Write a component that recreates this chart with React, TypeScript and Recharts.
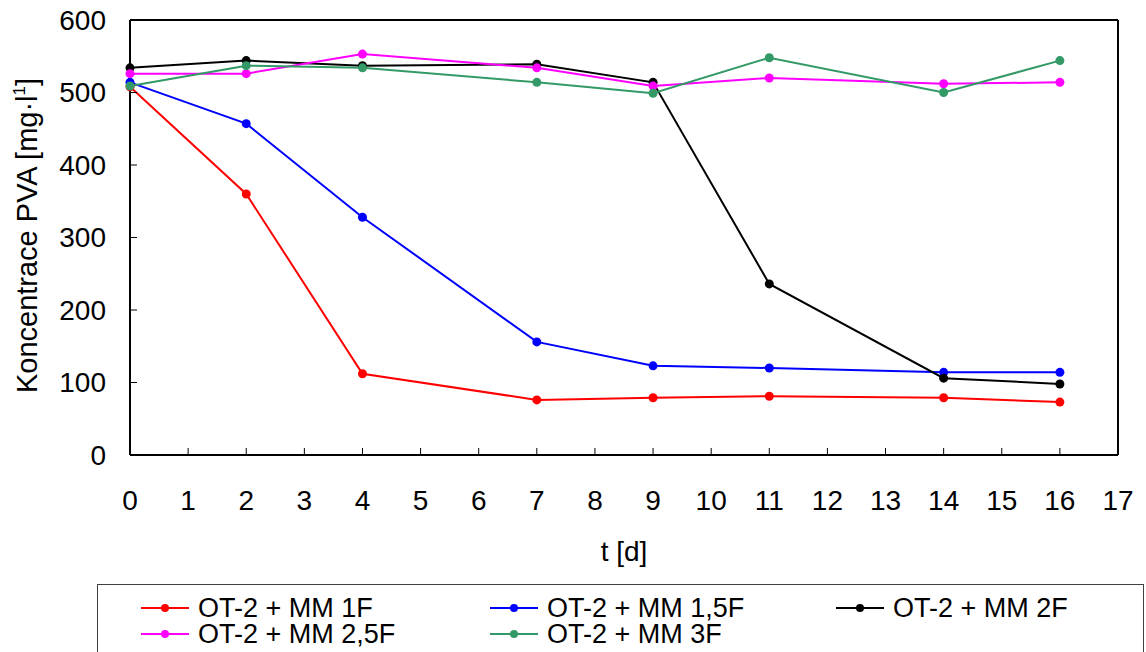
import React from 'react';
import { LineChart, Line, XAxis, YAxis, Legend } from 'recharts';

const days = [0, 2, 4, 7, 9, 11, 14, 16];
const mm1F = [508, 360, 112, 76, 79, 81, 79, 73];
const mm15F = [514, 457, 328, 156, 123, 120, 114, 114];
const mm2F = [534, 544, 537, 539, 514, 236, 106, 98];
const mm25F = [526, 526, 553, 534, 509, 520, 512, 514];
const mm3F = [509, 537, 534, 514, 499, 548, 500, 544];

const xTicks = [0, 1, 2, 3, 4, 5, 6, 7, 8, 9, 10, 11, 12, 13, 14, 15, 16, 17];
const yTicks = [0, 100, 200, 300, 400, 500, 600];

const series = [
  { key: 'mm1F', name: 'OT-2 + MM 1F', color: '#ff0000', values: mm1F },
  { key: 'mm15F', name: 'OT-2 + MM 1,5F', color: '#0000ff', values: mm15F },
  { key: 'mm2F', name: 'OT-2 + MM 2F', color: '#000000', values: mm2F },
  { key: 'mm25F', name: 'OT-2 + MM 2,5F', color: '#ff00ff', values: mm25F },
  { key: 'mm3F', name: 'OT-2 + MM 3F', color: '#339966', values: mm3F },
];

const data = days.map((d, i) => {
  const row: Record<string, number> = { day: d };
  series.forEach((s) => {
    row[s.key] = s.values[i];
  });
  return row;
});

const FONT = '"Liberation Sans", Arial, sans-serif';

// rotated y title, superscript on the unit
function YTitle({ viewBox }: { viewBox?: { x: number; y: number; width: number; height: number } }) {
  if (!viewBox) return null;
  const x = viewBox.x + 7;
  const y = viewBox.y + viewBox.height / 2 - 2;
  return (
    <text
      x={x}
      y={y}
      transform={`rotate(-90, ${x}, ${y})`}
      textAnchor="middle"
      fontSize={29}
      fontFamily={FONT}
      fill="#000"
    >
      Koncentrace PVA [mg·l
      <tspan fontSize={17} dy={-12}>1</tspan>
      <tspan dy={12}>]</tspan>
    </text>
  );
}

function XTitle({ viewBox }: { viewBox?: { x: number; y: number; width: number; height: number } }) {
  if (!viewBox) return null;
  return (
    <text
      x={viewBox.x + viewBox.width / 2}
      y={viewBox.y + 106}
      textAnchor="middle"
      fontSize={28}
      fontFamily={FONT}
      fill="#000"
    >
      t [d]
    </text>
  );
}

// legend columns / rows like the excel one
const legendCols = [43, 392, 738];
const legendRows = [23, 49];

function LegendBox() {
  return (
    <div
      style={{
        position: 'relative',
        width: 1045,
        height: 80,
        border: '1px solid #404040',
        background: '#fff',
        fontFamily: FONT,
        fontSize: 27,
        color: '#000',
      }}
    >
      {series.map((s, i) => {
        const left = legendCols[i % 3];
        const top = legendRows[Math.floor(i / 3)];
        return (
          <div
            key={s.key}
            style={{
              position: 'absolute',
              left,
              top: top - 12,
              height: 24,
              display: 'flex',
              alignItems: 'center',
              whiteSpace: 'nowrap',
            }}
          >
            <svg width={48} height={12} style={{ marginRight: 9 }}>
              <line x1={0} y1={6} x2={48} y2={6} stroke={s.color} strokeWidth={2} />
              <circle cx={24} cy={6} r={4} fill={s.color} />
            </svg>
            <span style={{ lineHeight: '24px' }}>{s.name}</span>
          </div>
        );
      })}
    </div>
  );
}

export default function App() {
  return (
    <div style={{ position: 'absolute', left: 0, top: 0, width: 1146, height: 652, background: '#fff', overflow: 'hidden' }}>
      <LineChart
        width={1146}
        height={652}
        data={data}
        margin={{ top: 19, right: 27, left: 30, bottom: 107 }}
        style={{ fontFamily: FONT }}
      >
        <XAxis
          dataKey="day"
          type="number"
          domain={[0, 17]}
          ticks={xTicks}
          interval={0}
          height={90}
          tickSize={-7}
          tickMargin={42}
          tick={{ fill: '#000', fontSize: 28 }}
          tickLine={{ stroke: '#000', strokeWidth: 1 }}
          axisLine={{ stroke: '#000', strokeWidth: 2 }}
          label={<XTitle />}
        />
        <XAxis
          xAxisId="top"
          orientation="top"
          dataKey="day"
          type="number"
          domain={[0, 17]}
          height={1}
          tick={false}
          tickLine={false}
          axisLine={{ stroke: '#000', strokeWidth: 2 }}
        />
        <YAxis
          type="number"
          domain={[0, 600]}
          ticks={yTicks}
          interval={0}
          width={100}
          tickSize={-7}
          tickMargin={31}
          tick={{ fill: '#000', fontSize: 28 }}
          tickLine={{ stroke: '#000', strokeWidth: 1 }}
          axisLine={{ stroke: '#000', strokeWidth: 2 }}
          label={<YTitle />}
        />
        <YAxis
          yAxisId="right"
          orientation="right"
          type="number"
          domain={[0, 600]}
          ticks={yTicks}
          interval={0}
          width={1}
          tickSize={-7}
          tick={false}
          tickLine={{ stroke: '#000', strokeWidth: 1 }}
          axisLine={{ stroke: '#000', strokeWidth: 2 }}
        />
        {series.map((s) => (
          <Line
            key={s.key}
            type="linear"
            dataKey={s.key}
            name={s.name}
            stroke={s.color}
            strokeWidth={2}
            dot={{ r: 4.5, fill: s.color, stroke: 'none' }}
            activeDot={false}
            isAnimationActive={false}
          />
        ))}
        <Legend
          layout="horizontal"
          verticalAlign="middle"
          align="center"
          content={() => <LegendBox />}
          wrapperStyle={{ left: 97, top: 584, width: 1047, height: 82 }}
        />
      </LineChart>
    </div>
  );
}
